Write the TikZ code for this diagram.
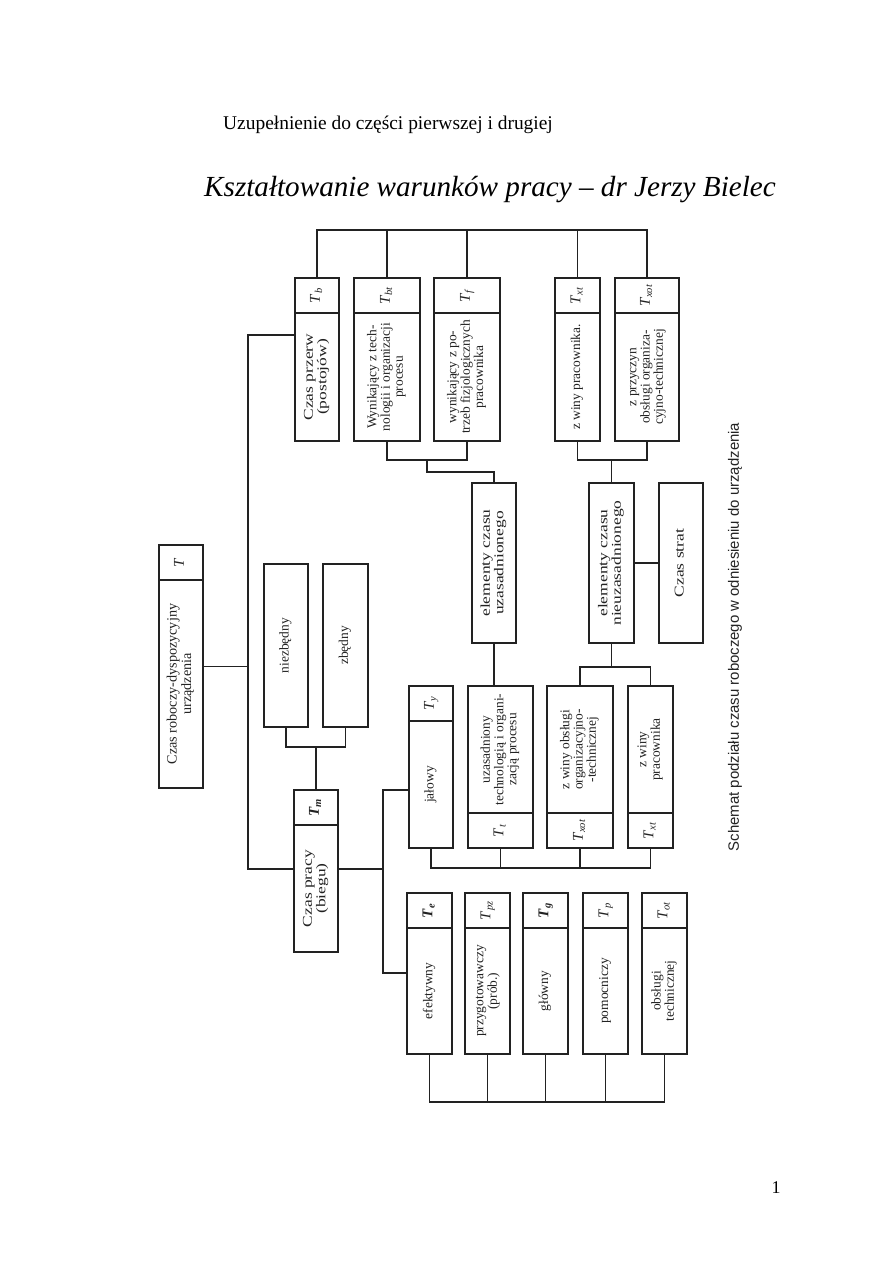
\documentclass[tikz,border=0pt]{standalone}
\usepackage{fontspec}
\setmainfont{Liberation Serif}
\newfontfamily\boxfont{Liberation Serif}
\newfontfamily\wideboxfont[FakeStretch=1.3]{Liberation Serif}
\newfontfamily\capfont{Liberation Sans}
\usepackage{tikz}
\usetikzlibrary{positioning,fit}
\definecolor{scanink}{HTML}{222222}
\newcommand{\vtext}[1]{\rotatebox{90}{\begin{tabular}{@{}c@{}}#1\end{tabular}}}
\newcommand{\Tsub}[1]{\textit{T}\textsubscript{\textit{#1}}}
\newcommand{\Tbold}[1]{\textbf{\textit{T}\textsubscript{\textit{#1}}}}
\tikzset{
  part/.style 2 args={draw=scanink,line width=0.8pt,inner sep=0pt,outer sep=0pt,
    minimum width=#1*0.02352cm,minimum height=#2*0.02352cm,
    font=\boxfont\fontsize{9}{8.8}\selectfont,text=scanink},
  head/.style={font=\boxfont\fontsize{9.5}{9.6}\selectfont},
  widehead/.style={font=\wideboxfont\fontsize{9}{9}\selectfont},
  tlabel/.style={font=\boxfont\fontsize{10}{10}\selectfont},
  link/.style={draw=scanink,line width=0.7pt},
}

\begin{document}
\begin{tikzpicture}[x=0.02352cm,y=-0.02352cm]
  \fill[white] (0,0) rectangle (893,1263);
  \useasboundingbox (0,0) rectangle (893,1263);

  % headings
  \node[font=\fontsize{13}{15}\selectfont] (title) at (388,125) {Uzupełnienie do części pierwszej i drugiej};
  \node[font=\itshape\fontsize{19.5}{22}\selectfont] (hand) at (490,190) {Kształtowanie warunków pracy – dr Jerzy Bielec};

  % main box
  \node[part={44}{208},head] (robocz) at (181,684) {\vtext{Czas roboczy-dyspozycyjny\\urządzenia}};
  \node[part={44}{35},tlabel,above=0pt of robocz] (roboczT) {\vtext{\textit{T}}};
  \node[fit=(robocz)(roboczT),draw=scanink,line width=1.8pt,inner sep=0pt] (roboczFrame) {};

  % breaks (top row)
  \node[part={44}{128},widehead] (przerw) at (317,377) {\vtext{Czas przerw\\(postojów)}};
  \node[part={44}{35},tlabel,above=0pt of przerw] (przerwT) {\vtext{\Tsub{b}}};
  \node[part={66}{128}] (wynik) at (387,377) {\vtext{Wynikający z tech-\\nologii i organizacji\\procesu}};
  \node[part={66}{35},tlabel,above=0pt of wynik] (wynikT) {\vtext{\Tsub{bt}}};
  \node[part={66}{128}] (potrz) at (467,377) {\vtext{wynikający z po-\\trzeb fizjologicznych\\pracownika}};
  \node[part={66}{35},tlabel,above=0pt of potrz] (potrzT) {\vtext{\Tsub{f}}};
  \node[part={45}{128}] (winyA) at (577.5,377) {\vtext{z winy pracownika.}};
  \node[part={45}{35},tlabel,above=0pt of winyA] (winyAT) {\vtext{\Tsub{xt}}};
  \node[part={64}{128}] (przycz) at (647,377) {\vtext{z przyczyn\\obsługi organiza-\\cyjno-technicznej}};
  \node[part={64}{35},tlabel,above=0pt of przycz] (przyczT) {\vtext{\Tsub{xot}}};

  % elements
  \node[part={44}{160},widehead] (uzas) at (494,563) {\vtext{elementy czasu\\uzasadnionego}};
  \node[part={45}{160},widehead] (nieuzas) at (611.5,563) {\vtext{elementy czasu\\nieuzasadnionego}};
  \node[part={44}{160},widehead] (strat) at (681,563) {\vtext{Czas strat}};
  \node[part={44}{163}] (niezb) at (286,645.5) {\vtext{niezbędny}};
  \node[part={45}{163}] (zbedny) at (345.5,645.5) {\vtext{zbędny}};

  % run time
  \node[part={44}{127},widehead] (praca) at (316,888.5) {\vtext{Czas pracy\\(biegu)}};
  \node[part={44}{35},tlabel,above=0pt of praca] (pracaT) {\vtext{\Tbold{m}}};

  % middle row
  \node[part={44}{127}] (jalowy) at (431,784.5) {\vtext{jałowy}};
  \node[part={44}{35},tlabel,above=0pt of jalowy] (jalowyT) {\vtext{\Tsub{y}}};
  \node[part={65}{127}] (uztech) at (500.5,749.5) {\vtext{uzasadniony\\technologią i organi-\\zacją procesu}};
  \node[part={65}{35},tlabel,below=0pt of uztech] (uztechT) {\vtext{\Tsub{t}}};
  \node[part={66}{127}] (winyob) at (580,749.5) {\vtext{z winy obsługi\\organizacyjno-\\-technicznej}};
  \node[part={66}{35},tlabel,below=0pt of winyob] (winyobT) {\vtext{\Tsub{xot}}};
  \node[part={45}{127}] (winypr) at (650.5,749.5) {\vtext{z winy\\pracownika}};
  \node[part={45}{35},tlabel,below=0pt of winypr] (winyprT) {\vtext{\Tsub{xt}}};

  % bottom row
  \node[part={45}{126}] (efekt) at (429.5,991) {\vtext{efektywny}};
  \node[part={45}{35},tlabel,above=0pt of efekt] (efektT) {\vtext{\Tbold{e}}};
  \node[part={45}{126}] (przyg) at (487.5,991) {\vtext{przygotowawczy\\(prób.)}};
  \node[part={45}{35},tlabel,above=0pt of przyg] (przygT) {\vtext{\Tsub{pz}}};
  \node[part={45}{126}] (glowny) at (545.5,991) {\vtext{główny}};
  \node[part={45}{35},tlabel,above=0pt of glowny] (glownyT) {\vtext{\Tbold{g}}};
  \node[part={45}{126}] (pomoc) at (605.5,991) {\vtext{pomocniczy}};
  \node[part={45}{35},tlabel,above=0pt of pomoc] (pomocT) {\vtext{\Tsub{p}}};
  \node[part={45}{126}] (obsl) at (664.5,991) {\vtext{obsługi\\technicznej}};
  \node[part={45}{35},tlabel,above=0pt of obsl] (obslT) {\vtext{\Tsub{ot}}};

  % caption and page number
  \node[font=\capfont\fontsize{10}{11}\selectfont,rotate=90,text=scanink] (caption) at (735,637) {Schemat podziału czasu roboczego w odniesieniu do urządzenia};
  \node[font=\fontsize{12}{14}\selectfont] (pagenum) at (776,1188) {1};

  % connectors
  \coordinate (spineT) at (248,335);
  \coordinate (spineB) at (248,869);
  \draw[link] (roboczFrame.east) -- (roboczFrame.east -| spineT);
  \draw[link] (przerw.west |- spineT) -- (spineT) -- (spineB) -- (praca.west |- spineB);

  \coordinate (forkT) at (383,790);
  \coordinate (forkB) at (383,973);
  \draw[link] (praca.east |- spineB) -- (spineB -| forkT);
  \draw[link] (jalowy.west |- forkT) -- (forkT) -- (forkB) -- (efekt.west |- forkB);

  \coordinate (topbar) at (0,230);
  \draw[link] (przerwT.north) -- (przerwT.north |- topbar) -- (przyczT.north |- topbar) -- (przyczT.north);
  \foreach \n in {wynikT,potrzT,winyAT}
    \draw[link] (\n.north) -- (\n.north |- topbar);

  \coordinate (brL) at (427,460);
  \draw[link] (wynik.south) |- (brL) -| (potrz.south);
  \draw[link] (brL) -- ++(0,12) -| (uzas.north);
  \coordinate (brR) at (611.5,460);
  \draw[link] (winyA.south) |- (brR) -| (przycz.south);
  \draw[link] (brR) -- (nieuzas.north);
  \draw[link] (nieuzas) -- (strat);

  \draw[link] (uzas.south) -- (uzas.south |- uztech.north);
  \coordinate (brZ) at (611.5,667);
  \draw[link] (nieuzas.south) -- (brZ);
  \draw[link] (winyob.north) |- (brZ) -| (winypr.north);

  \coordinate (brN) at (316,747);
  \draw[link] (niezb.south) |- (brN) -| (zbedny.south);
  \draw[link] (brN) -- (pracaT.north);

  \coordinate (midbar) at (0,868);
  \draw[link] (jalowy.south) -- (jalowy.south |- midbar) -- (winyprT.south |- midbar) -- (winyprT.south);
  \foreach \n in {uztechT,winyobT}
    \draw[link] (\n.south) -- (\n.south |- midbar);

  \coordinate (botbar) at (0,1102);
  \draw[link] (efekt.south) -- (efekt.south |- botbar) -- (obsl.south |- botbar) -- (obsl.south);
  \foreach \n in {przyg,glowny,pomoc}
    \draw[link] (\n.south) -- (\n.south |- botbar);
\end{tikzpicture}
\end{document}
